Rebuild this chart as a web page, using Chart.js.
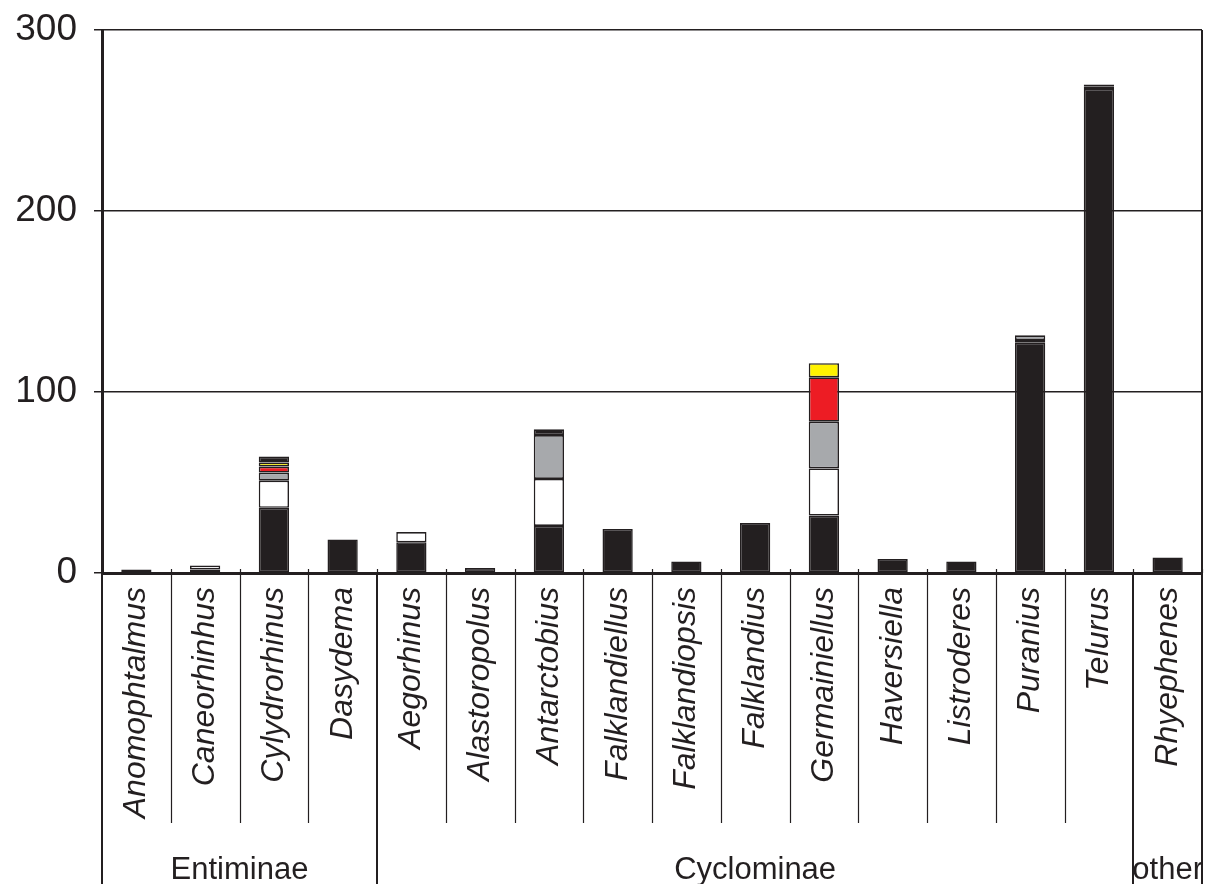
<!DOCTYPE html>
<html>
<head>
<meta charset="utf-8">
<title>Weevil genera – stacked counts</title>
<script src="https://cdn.jsdelivr.net/npm/chart.js@4.4.1/dist/chart.umd.min.js"></script>
<style>
  html, body { margin: 0; padding: 0; background: #ffffff; }
  #wrap { width: 1211px; height: 884px; }
</style>
</head>
<body>
<div id="wrap"><canvas id="c" width="1211" height="884"></canvas></div>
<script>
// Genera along the category axis
const genera = ['Anomophtalmus', 'Caneorhinhus', 'Cylydrorhinus', 'Dasydema',
  'Aegorhinus', 'Alastoropolus', 'Antarctobius', 'Falklandiellus', 'Falklandiopsis',
  'Falklandius', 'Germainiellus', 'Haversiella', 'Listroderes', 'Puranius', 'Telurus',
  'Rhyephenes'];

// Subfamily groups and how many genera each spans (in order)
const groupNames = ['Entiminae', 'Cyclominae', 'other'];
const groupSizes = [4, 11, 1];

// Stacked segment values, bottom to top
const blackVals  = [2, 2, 36, 18.5, 17, 2.7, 26, 24.3, 6.4, 27.6, 31.7, 7.7, 6.4, 127.2, 267.4, 8.6];
const whiteVals  = [null, 2.2, 15, null, 5.6, null, 26, null, null, null, 26.1, null, null, 1.5, 1.2, null];
const greyVals   = [null, null, 4.5, null, null, null, 24.2, null, null, null, 25.8, null, null, 2.6, null, null];
const redVals    = [null, null, 3.3, null, null, null, null, null, null, null, 24.5, null, null, null, null, null];
const yellowVals = [null, null, 2.2, null, null, null, null, null, null, null, 7.8, null, null, null, null, null];
const capVals    = [null, null, 3.3, null, null, null, 3.2, null, null, null, null, null, null, null, 1.3, null];

// Value axis ticks
const yTicks = [0, 100, 200, 300];

const INK = '#231f20';
const FONT = "'Liberation Sans', Arial, sans-serif";

function seg(label, data, color) {
  return {
    label, data,
    backgroundColor: color,
    borderColor: INK,
    borderWidth: 1.6,
    borderSkipped: false,
    categoryPercentage: 1,
    barPercentage: 0.44
  };
}

// Draws the genus separators, subfamily separators, group names and right frame
const groupAxisPlugin = {
  id: 'groupAxis',
  afterDraw(chart) {
    const ctx = chart.ctx;
    const x = chart.scales.x;
    const area = chart.chartArea;
    const H = chart.height;
    const edge = i => x.getPixelForValue(i - 0.5);

    // group boundary indices
    const groupEdges = [0];
    groupSizes.forEach(s => groupEdges.push(groupEdges[groupEdges.length - 1] + s));

    ctx.save();
    ctx.strokeStyle = INK;

    // small tick marks above the axis and genus separators below it
    for (let i = 0; i <= genera.length; i++) {
      const px = Math.round(edge(i)) + 0.5;
      ctx.lineWidth = 1.2;
      ctx.beginPath();
      ctx.moveTo(px, area.bottom - 4);
      ctx.lineTo(px, area.bottom);
      ctx.stroke();
      if (!groupEdges.includes(i)) {
        ctx.beginPath();
        ctx.moveTo(px, area.bottom);
        ctx.lineTo(px, 823);
        ctx.stroke();
      }
    }

    // subfamily separators run to the bottom edge
    ctx.lineWidth = 2;
    groupEdges.forEach(i => {
      const px = Math.round(edge(i));
      ctx.beginPath();
      ctx.moveTo(px, area.bottom);
      ctx.lineTo(px, H);
      ctx.stroke();
    });

    // right frame of the plot
    ctx.beginPath();
    ctx.moveTo(Math.round(area.right), area.top);
    ctx.lineTo(Math.round(area.right), H);
    ctx.stroke();

    // subfamily names
    ctx.fillStyle = INK;
    ctx.font = "31px " + FONT;
    ctx.textAlign = 'center';
    ctx.textBaseline = 'alphabetic';
    groupNames.forEach((name, g) => {
      const cx = (edge(groupEdges[g]) + edge(groupEdges[g + 1])) / 2;
      ctx.fillText(name, cx, 879);
    });
    ctx.restore();
  }
};

new Chart(document.getElementById('c'), {
  type: 'bar',
  data: {
    labels: genera,
    datasets: [
      seg('black', blackVals, INK),
      seg('white', whiteVals, '#ffffff'),
      seg('grey', greyVals, '#a7a9ac'),
      seg('red', redVals, '#ed1c24'),
      seg('yellow', yellowVals, '#fff200'),
      seg('dark cap', capVals, INK)
    ]
  },
  options: {
    responsive: false,
    animation: false,
    layout: { padding: { top: 30, right: 9, bottom: 0, left: 0 } },
    plugins: {
      legend: { display: false },
      tooltip: { enabled: false }
    },
    scales: {
      x: {
        stacked: true,
        offset: true,
        grid: { display: false },
        border: { display: true, color: INK, width: 3 },
        ticks: {
          autoSkip: false,
          minRotation: 90,
          maxRotation: 90,
          padding: 6,
          color: INK,
          font: { family: FONT, size: 32, style: 'italic' }
        },
        afterFit(scale) {
          scale.height = 311;
          scale.paddingLeft = 0;
          scale.paddingRight = 0;
        }
      },
      y: {
        stacked: true,
        min: 0,
        max: 300,
        afterBuildTicks(scale) { scale.ticks = yTicks.map(v => ({ value: v })); },
        grid: { color: INK, lineWidth: 1.5, tickLength: 8, drawTicks: true },
        border: { display: true, color: INK, width: 3 },
        ticks: {
          padding: 17,
          color: INK,
          font: { family: FONT, size: 37 }
        },
        afterFit(scale) {
          scale.width = 102;
          scale.paddingTop = 0;
          scale.paddingBottom = 0;
        }
      }
    }
  },
  plugins: [groupAxisPlugin]
});
</script>
</body>
</html>
